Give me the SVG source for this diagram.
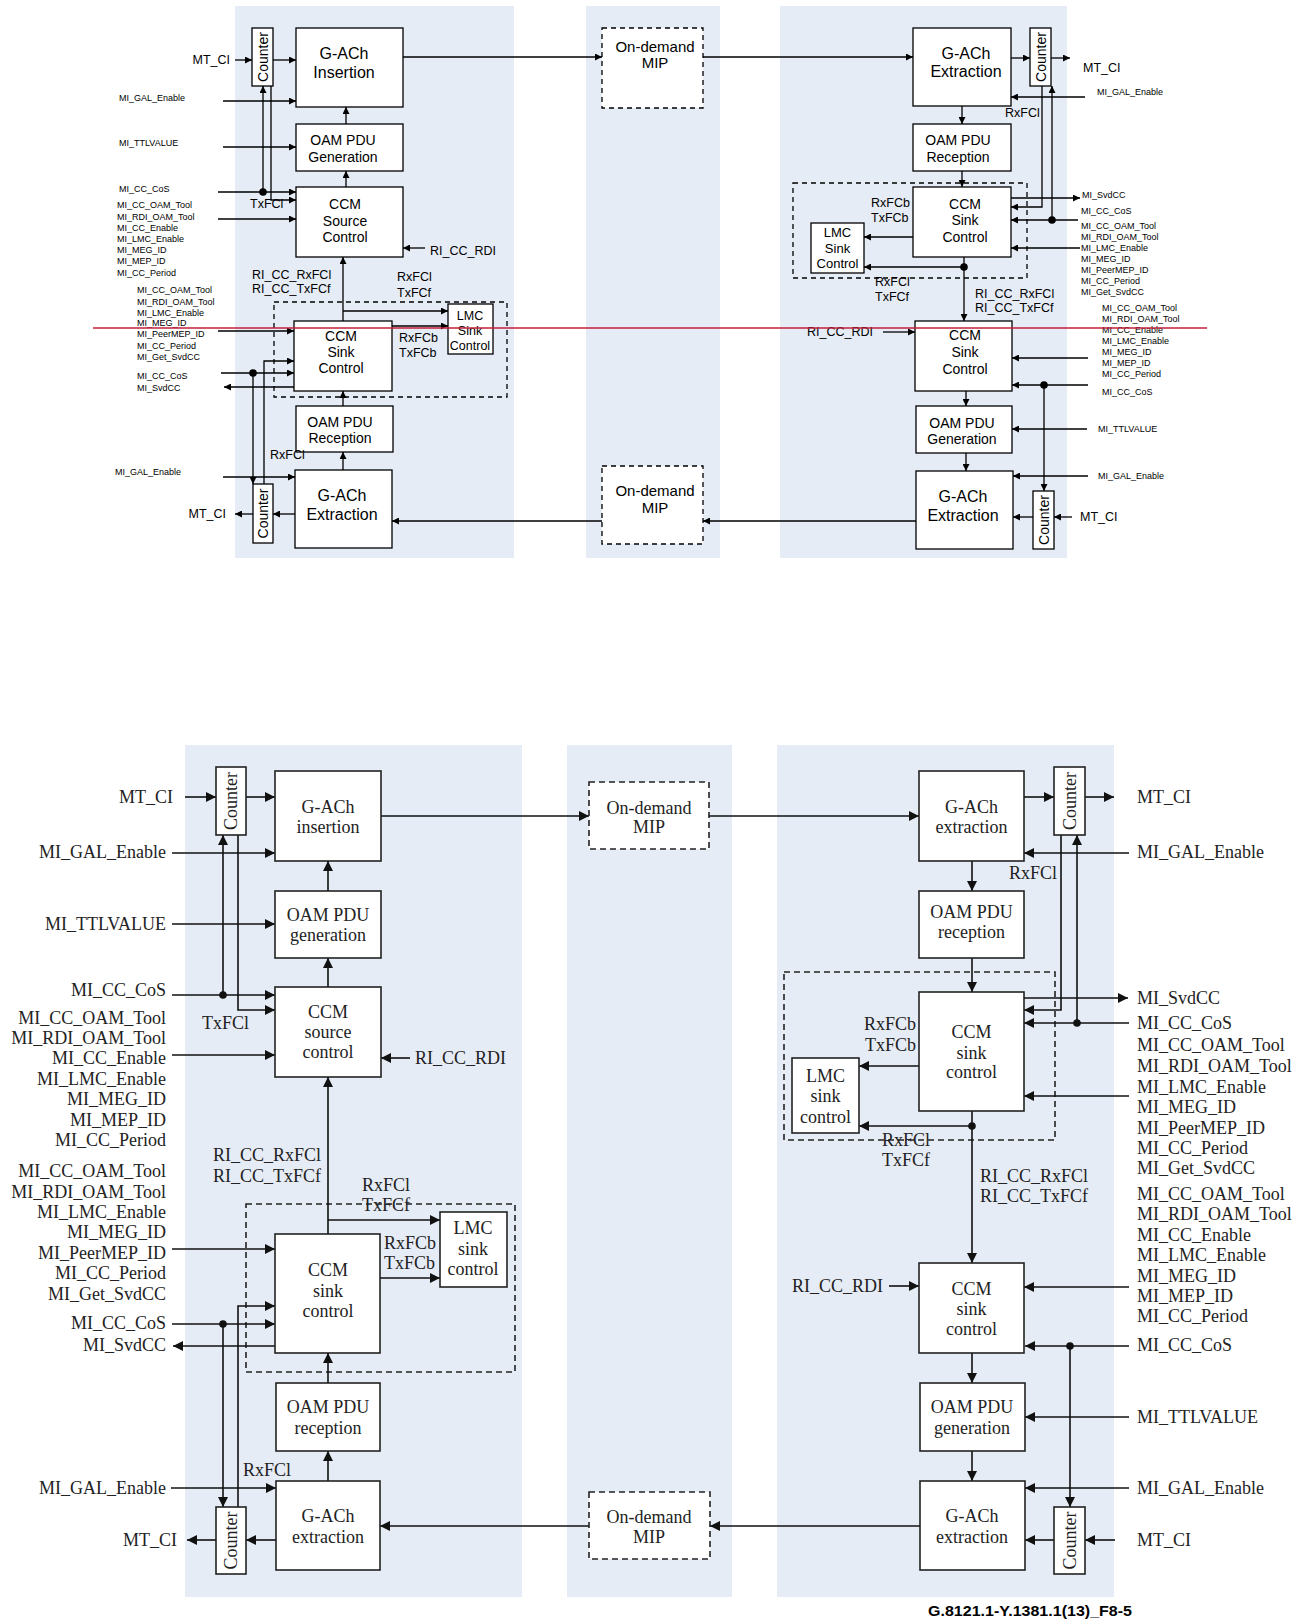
<svg xmlns="http://www.w3.org/2000/svg" width="1306" height="1621" viewBox="0 0 1306 1621">
<style>
.bg{fill:#e6ecf6}
.b1{fill:#fff;stroke:#000;stroke-width:1.3}
.b2{fill:#fff;stroke:#222;stroke-width:1.6}
.d1{fill:#fff;stroke:#000;stroke-width:1.3;stroke-dasharray:5,4}
.d1n{fill:none;stroke:#000;stroke-width:1.3;stroke-dasharray:5,4}
.d2{fill:#fff;stroke:#222;stroke-width:1.6;stroke-dasharray:6,4}
.d2n{fill:none;stroke:#222;stroke-width:1.6;stroke-dasharray:6,4}
.l1{fill:none;stroke:#000;stroke-width:1.3}
.l2{fill:none;stroke:#111;stroke-width:1.6}
.a1{marker-end:url(#m1)}
.a2{marker-end:url(#m2)}
.t1{font-family:"Liberation Sans",Arial,sans-serif;fill:#000}
.t2{font-family:"Liberation Serif","Times New Roman",serif;fill:#222;font-size:18px}
.s9{font-size:9px}
.s12{font-size:12.5px}
.s13{font-size:13px}
.s14{font-size:14px}
.s15{font-size:15px}
.s16{font-size:16px}
.c{text-anchor:middle}
.e{text-anchor:end}
</style>
<defs>
<marker id="m1" viewBox="0 0 10 10" refX="10" refY="5" markerWidth="8" markerHeight="7" markerUnits="userSpaceOnUse" orient="auto"><path d="M0,0L10,5L0,10z" fill="#000"/></marker>
<marker id="m2" viewBox="0 0 10 10" refX="10" refY="5" markerWidth="11" markerHeight="10" markerUnits="userSpaceOnUse" orient="auto"><path d="M0,0L10,5L0,10z" fill="#111"/></marker>
</defs>

<g id="panels">
<rect class="bg" x="235" y="6" width="279" height="552"/>
<rect class="bg" x="586" y="6" width="134" height="552"/>
<rect class="bg" x="780" y="6" width="287" height="552"/>
<rect class="bg" x="185" y="745" width="337" height="852"/>
<rect class="bg" x="567" y="745" width="165" height="852"/>
<rect class="bg" x="777" y="745" width="337" height="852"/>
</g>

<!-- ===== TOP HALF ===== -->
<g id="top-dashed">
<rect class="d1n" x="274" y="302" width="233" height="95"/>
<rect class="d1n" x="793" y="183" width="234" height="95"/>
</g>

<g id="connectors-top">
<path class="l1 a1" d="M235,60H252"/>
<path class="l1 a1" d="M273,60H296"/>
<path class="l1 a1" d="M223,101H296"/>
<path class="l1 a1" d="M223,147H296"/>
<path class="l1 a1" d="M218,192H296"/>
<path class="l1 a1" d="M263,192V86"/>
<path class="l1 a1" d="M271,86V200H296"/>
<path class="l1 a1" d="M218,219H296"/>
<path class="l1 a1" d="M346,124V107"/>
<path class="l1 a1" d="M346,187V171"/>
<path class="l1 a1" d="M425,248H403"/>
<path class="l1 a1" d="M343,321V257"/>
<path class="l1 a1" d="M343,311H448"/>
<path class="l1 a1" d="M392,326H448"/>
<path class="l1 a1" d="M218,331H294"/>
<path class="l1 a1" d="M221,373H294"/>
<path class="l1 a1" d="M253,373V484"/>
<path class="l1 a1" d="M264,484V361H294"/>
<path class="l1 a1" d="M294,387H224"/>
<path class="l1 a1" d="M343,406V391"/>
<path class="l1 a1" d="M343,470V452"/>
<path class="l1 a1" d="M223,477H295"/>
<path class="l1 a1" d="M295,514H273"/>
<path class="l1 a1" d="M253,514H235"/>
<path class="l1 a1" d="M403,57H602"/>
<path class="l1 a1" d="M703,57H913"/>
<path class="l1 a1" d="M916,521H703"/>
<path class="l1 a1" d="M602,521H392"/>
<path class="l1 a1" d="M1011,58H1030"/>
<path class="l1 a1" d="M1051,58H1070"/>
<path class="l1 a1" d="M1085,97H1011"/>
<path class="l1 a1" d="M962,106V124"/>
<path class="l1 a1" d="M962,171V187"/>
<path class="l1 a1" d="M1042,86V207H1011"/>
<path class="l1 a1" d="M1052,220V86"/>
<path class="l1 a1" d="M1078,220H1011"/>
<path class="l1 a1" d="M1011,198H1080"/>
<path class="l1 a1" d="M1080,248H1011"/>
<path class="l1 a1" d="M913,237H864"/>
<path class="l1 a1" d="M964,257V321"/>
<path class="l1 a1" d="M964,267H864"/>
<path class="l1 a1" d="M883,332H915"/>
<path class="l1 a1" d="M1088,358H1012"/>
<path class="l1 a1" d="M1088,385H1012"/>
<path class="l1 a1" d="M1044,385V491"/>
<path class="l1 a1" d="M966,391V406"/>
<path class="l1 a1" d="M966,453V471"/>
<path class="l1 a1" d="M1087,429H1012"/>
<path class="l1 a1" d="M1088,476H1013"/>
<path class="l1 a1" d="M1072,517H1054"/>
<path class="l1 a1" d="M1033,517H1013"/>
<circle cx="263" cy="192" r="3.8"/>
<circle cx="253" cy="373" r="3.8"/>
<circle cx="1052" cy="220" r="3.8"/>
<circle cx="964" cy="267" r="3.8"/>
<circle cx="1044" cy="385" r="3.8"/>
</g>

<g id="t-counter-1"><rect class="b1" x="252" y="28" width="21" height="58"/><text class="t1 s14 c" transform="translate(267.5,57) rotate(-90)">Counter</text></g>
<g id="t-gach-ins"><rect class="b1" x="296" y="28" width="107" height="79"/><text class="t1 s16 c" x="344"><tspan x="344" y="59">G-ACh</tspan><tspan x="344" y="78">Insertion</tspan></text></g>
<g id="t-oam-gen-l"><rect class="b1" x="296" y="124" width="107" height="47"/><text class="t1 s14 c"><tspan x="343" y="145">OAM PDU</tspan><tspan x="343" y="162">Generation</tspan></text></g>
<g id="t-ccm-src"><rect class="b1" x="296" y="187" width="107" height="70"/><text class="t1 s14 c"><tspan x="345" y="209">CCM</tspan><tspan x="345" y="226">Source</tspan><tspan x="345" y="242">Control</tspan></text></g>
<g id="t-ccm-sink-l"><rect class="b1" x="294" y="321" width="98" height="70"/><text class="t1 s14 c"><tspan x="341" y="341">CCM</tspan><tspan x="341" y="357">Sink</tspan><tspan x="341" y="373">Control</tspan></text></g>
<g id="t-lmc-l"><rect class="b1" x="448" y="304" width="45" height="50"/><text class="t1 s12 c"><tspan x="470" y="320">LMC</tspan><tspan x="470" y="335">Sink</tspan><tspan x="470" y="350">Control</tspan></text></g>
<g id="t-oam-rx-l"><rect class="b1" x="296" y="406" width="97" height="46"/><text class="t1 s14 c"><tspan x="340" y="427">OAM PDU</tspan><tspan x="340" y="443">Reception</tspan></text></g>
<g id="t-gach-ext-l"><rect class="b1" x="295" y="470" width="97" height="78"/><text class="t1 s16 c"><tspan x="342" y="501">G-ACh</tspan><tspan x="342" y="520">Extraction</tspan></text></g>
<g id="t-counter-2"><rect class="b1" x="253" y="484" width="20" height="59"/><text class="t1 s14 c" transform="translate(268,513.5) rotate(-90)">Counter</text></g>

<g id="t-mip-1"><rect class="d1" x="602" y="28" width="101" height="80"/><text class="t1 s15 c"><tspan x="655" y="52">On-demand</tspan><tspan x="655" y="68">MIP</tspan></text></g>
<g id="t-mip-2"><rect class="d1" x="602" y="466" width="101" height="78"/><text class="t1 s15 c"><tspan x="655" y="496">On-demand</tspan><tspan x="655" y="513">MIP</tspan></text></g>

<g id="t-gach-ext-r"><rect class="b1" x="913" y="28" width="98" height="78"/><text class="t1 s16 c"><tspan x="966" y="59">G-ACh</tspan><tspan x="966" y="77">Extraction</tspan></text></g>
<g id="t-counter-3"><rect class="b1" x="1030" y="28" width="21" height="58"/><text class="t1 s14 c" transform="translate(1045.5,57) rotate(-90)">Counter</text></g>
<g id="t-oam-rx-r"><rect class="b1" x="913" y="124" width="98" height="47"/><text class="t1 s14 c"><tspan x="958" y="145">OAM PDU</tspan><tspan x="958" y="162">Reception</tspan></text></g>
<g id="t-ccm-sink-r1"><rect class="b1" x="913" y="187" width="98" height="70"/><text class="t1 s14 c"><tspan x="965" y="209">CCM</tspan><tspan x="965" y="225">Sink</tspan><tspan x="965" y="242">Control</tspan></text></g>
<g id="t-lmc-r"><rect class="b1" x="811" y="223" width="53" height="50"/><text class="t1 s13 c"><tspan x="837.5" y="237">LMC</tspan><tspan x="837.5" y="253">Sink</tspan><tspan x="837.5" y="268">Control</tspan></text></g>
<g id="t-ccm-sink-r2"><rect class="b1" x="915" y="321" width="97" height="70"/><text class="t1 s14 c"><tspan x="965" y="340">CCM</tspan><tspan x="965" y="357">Sink</tspan><tspan x="965" y="374">Control</tspan></text></g>
<g id="t-oam-gen-r"><rect class="b1" x="916" y="406" width="96" height="47"/><text class="t1 s14 c"><tspan x="962" y="428">OAM PDU</tspan><tspan x="962" y="444">Generation</tspan></text></g>
<g id="t-gach-ins-r"><rect class="b1" x="916" y="471" width="97" height="78"/><text class="t1 s16 c"><tspan x="963" y="502">G-ACh</tspan><tspan x="963" y="521">Extraction</tspan></text></g>
<g id="t-counter-4"><rect class="b1" x="1033" y="491" width="21" height="58"/><text class="t1 s14 c" transform="translate(1048.5,520) rotate(-90)">Counter</text></g>

<g id="t-labels" class="t1">
<text class="s12 e" x="230" y="64">MT_CI</text>
<text class="s9" x="119" y="101">MI_GAL_Enable</text>
<text class="s9" x="119" y="146">MI_TTLVALUE</text>
<text class="s9" x="119" y="192">MI_CC_CoS</text>
<text class="s9"><tspan x="117" y="208">MI_CC_OAM_Tool</tspan><tspan x="117" y="220">MI_RDI_OAM_Tool</tspan><tspan x="117" y="231">MI_CC_Enable</tspan><tspan x="117" y="242">MI_LMC_Enable</tspan><tspan x="117" y="253">MI_MEG_ID</tspan><tspan x="117" y="264">MI_MEP_ID</tspan><tspan x="117" y="276">MI_CC_Period</tspan></text>
<text class="s12" x="250" y="208">TxFCl</text>
<text class="s12" x="430" y="255">RI_CC_RDI</text>
<text class="s12"><tspan x="252" y="279">RI_CC_RxFCl</tspan><tspan x="252" y="293">RI_CC_TxFCf</tspan></text>
<text class="s12"><tspan x="397" y="281">RxFCl</tspan><tspan x="397" y="297">TxFCf</tspan></text>
<text class="s9"><tspan x="137" y="293">MI_CC_OAM_Tool</tspan><tspan x="137" y="305">MI_RDI_OAM_Tool</tspan><tspan x="137" y="316">MI_LMC_Enable</tspan><tspan x="137" y="326">MI_MEG_ID</tspan><tspan x="137" y="337">MI_PeerMEP_ID</tspan><tspan x="137" y="349">MI_CC_Period</tspan><tspan x="137" y="360">MI_Get_SvdCC</tspan></text>
<text class="s9" x="137" y="379">MI_CC_CoS</text>
<text class="s9" x="137" y="391">MI_SvdCC</text>
<text class="s12"><tspan x="399" y="342">RxFCb</tspan><tspan x="399" y="357">TxFCb</tspan></text>
<text class="s12" x="270" y="459">RxFCl</text>
<text class="s9" x="115" y="475">MI_GAL_Enable</text>
<text class="s12 e" x="226" y="518">MT_CI</text>
<text class="s12" x="1083" y="72">MT_CI</text>
<text class="s9" x="1097" y="95">MI_GAL_Enable</text>
<text class="s12" x="1005" y="117">RxFCl</text>
<text class="s12"><tspan x="871" y="207">RxFCb</tspan><tspan x="871" y="222">TxFCb</tspan></text>
<text class="s9" x="1082" y="198">MI_SvdCC</text>
<text class="s9" x="1081" y="214">MI_CC_CoS</text>
<text class="s9"><tspan x="1081" y="229">MI_CC_OAM_Tool</tspan><tspan x="1081" y="240">MI_RDI_OAM_Tool</tspan><tspan x="1081" y="251">MI_LMC_Enable</tspan><tspan x="1081" y="262">MI_MEG_ID</tspan><tspan x="1081" y="273">MI_PeerMEP_ID</tspan><tspan x="1081" y="284">MI_CC_Period</tspan><tspan x="1081" y="295">MI_Get_SvdCC</tspan></text>
<text class="s12"><tspan x="875" y="286">RxFCl</tspan><tspan x="875" y="301">TxFCf</tspan></text>
<text class="s12"><tspan x="975" y="298">RI_CC_RxFCl</tspan><tspan x="975" y="312">RI_CC_TxFCf</tspan></text>
<text class="s12" x="807" y="336">RI_CC_RDI</text>
<text class="s9"><tspan x="1102" y="311">MI_CC_OAM_Tool</tspan><tspan x="1102" y="322">MI_RDI_OAM_Tool</tspan><tspan x="1102" y="333">MI_CC_Enable</tspan><tspan x="1102" y="344">MI_LMC_Enable</tspan><tspan x="1102" y="355">MI_MEG_ID</tspan><tspan x="1102" y="366">MI_MEP_ID</tspan><tspan x="1102" y="377">MI_CC_Period</tspan></text>
<text class="s9" x="1102" y="395">MI_CC_CoS</text>
<text class="s9" x="1098" y="432">MI_TTLVALUE</text>
<text class="s9" x="1098" y="479">MI_GAL_Enable</text>
<text class="s12" x="1080" y="521">MT_CI</text>
</g>

<line x1="93" y1="328" x2="1207" y2="328" stroke="#c41e3a" stroke-width="1.5"/>

<!-- ===== BOTTOM HALF ===== -->
<g id="bottom-dashed">
<rect class="d2n" x="246" y="1204" width="269" height="168"/>
<rect class="d2n" x="784" y="972" width="271" height="168"/>
</g>

<g id="connectors-bottom">
<path class="l2 a2" d="M185,797H216"/>
<path class="l2 a2" d="M246,797H275"/>
<path class="l2 a2" d="M381,816H589"/>
<path class="l2 a2" d="M172,853H275"/>
<path class="l2 a2" d="M328,891V861"/>
<path class="l2 a2" d="M328,987V958"/>
<path class="l2 a2" d="M172,924H275"/>
<path class="l2 a2" d="M172,995H275"/>
<path class="l2 a2" d="M223,995V835"/>
<path class="l2 a2" d="M238,835V1010H275"/>
<path class="l2 a2" d="M172,1055H275"/>
<path class="l2 a2" d="M410,1058H381"/>
<path class="l2 a2" d="M328,1234V1077"/>
<path class="l2 a2" d="M328,1220H440"/>
<path class="l2 a2" d="M380,1278H440"/>
<path class="l2 a2" d="M172,1249H275"/>
<path class="l2 a2" d="M172,1324H275"/>
<path class="l2 a2" d="M223,1324V1507"/>
<path class="l2 a2" d="M238,1507V1306H275"/>
<path class="l2 a2" d="M275,1346H173"/>
<path class="l2 a2" d="M328,1383V1353"/>
<path class="l2 a2" d="M328,1481V1451"/>
<path class="l2 a2" d="M171,1488H276"/>
<path class="l2 a2" d="M276,1540H246"/>
<path class="l2 a2" d="M216,1540H187"/>
<path class="l2 a2" d="M589,1526H380"/>
<path class="l2 a2" d="M709,816H919"/>
<path class="l2 a2" d="M920,1526H710"/>
<path class="l2 a2" d="M1024,797H1054"/>
<path class="l2 a2" d="M1085,797H1114"/>
<path class="l2 a2" d="M1129,853H1024"/>
<path class="l2 a2" d="M972,861V891"/>
<path class="l2 a2" d="M972,958V992"/>
<path class="l2 a2" d="M1061,835V1010H1024"/>
<path class="l2 a2" d="M1077,1023V835"/>
<path class="l2 a2" d="M1129,1023H1024"/>
<path class="l2 a2" d="M1024,998H1128"/>
<path class="l2 a2" d="M1129,1096H1024"/>
<path class="l2 a2" d="M919,1066H859"/>
<path class="l2 a2" d="M972,1111V1263"/>
<path class="l2 a2" d="M972,1126H859"/>
<path class="l2 a2" d="M889,1286H919"/>
<path class="l2 a2" d="M1129,1287H1024"/>
<path class="l2 a2" d="M1129,1346H1025"/>
<path class="l2 a2" d="M1070,1346V1507"/>
<path class="l2 a2" d="M972,1353V1383"/>
<path class="l2 a2" d="M972,1451V1481"/>
<path class="l2 a2" d="M1129,1417H1025"/>
<path class="l2 a2" d="M1129,1488H1025"/>
<path class="l2 a2" d="M1115,1540H1085"/>
<path class="l2 a2" d="M1054,1540H1025"/>
<circle cx="223" cy="995" r="3.8" fill="#111"/>
<circle cx="223" cy="1324" r="3.8" fill="#111"/>
<circle cx="1077" cy="1023" r="3.8" fill="#111"/>
<circle cx="972" cy="1126" r="3.8" fill="#111"/>
<circle cx="1070" cy="1346" r="3.8" fill="#111"/>
</g>

<g id="b-counter-1"><rect class="b2" x="216" y="767" width="30" height="68"/><text class="t2 c" transform="translate(237,801) rotate(-90)">Counter</text></g>
<g id="b-gach-ins"><rect class="b2" x="275" y="771" width="106" height="90"/><text class="t2 c"><tspan x="328" y="813">G-ACh</tspan><tspan x="328" y="833">insertion</tspan></text></g>
<g id="b-oam-gen-l"><rect class="b2" x="275" y="891" width="106" height="67"/><text class="t2 c"><tspan x="328" y="921">OAM PDU</tspan><tspan x="328" y="941">generation</tspan></text></g>
<g id="b-ccm-src"><rect class="b2" x="275" y="987" width="106" height="90"/><text class="t2 c"><tspan x="328" y="1018">CCM</tspan><tspan x="328" y="1038">source</tspan><tspan x="328" y="1058">control</tspan></text></g>
<g id="b-ccm-sink-l"><rect class="b2" x="275" y="1234" width="105" height="119"/><text class="t2 c"><tspan x="328" y="1276">CCM</tspan><tspan x="328" y="1297">sink</tspan><tspan x="328" y="1317">control</tspan></text></g>
<g id="b-lmc-l"><rect class="b2" x="440" y="1212" width="67" height="75"/><text class="t2 c"><tspan x="473" y="1234">LMC</tspan><tspan x="473" y="1255">sink</tspan><tspan x="473" y="1275">control</tspan></text></g>
<g id="b-oam-rx-l"><rect class="b2" x="276" y="1383" width="104" height="68"/><text class="t2 c"><tspan x="328" y="1413">OAM PDU</tspan><tspan x="328" y="1434">reception</tspan></text></g>
<g id="b-gach-ext-l"><rect class="b2" x="276" y="1481" width="104" height="89"/><text class="t2 c"><tspan x="328" y="1522">G-ACh</tspan><tspan x="328" y="1543">extraction</tspan></text></g>
<g id="b-counter-2"><rect class="b2" x="216" y="1507" width="30" height="67"/><text class="t2 c" transform="translate(237,1540.5) rotate(-90)">Counter</text></g>

<g id="b-mip-1"><rect class="d2" x="589" y="782" width="120" height="67"/><text class="t2 c"><tspan x="649" y="814">On-demand</tspan><tspan x="649" y="833">MIP</tspan></text></g>
<g id="b-mip-2"><rect class="d2" x="589" y="1492" width="121" height="67"/><text class="t2 c"><tspan x="649" y="1523">On-demand</tspan><tspan x="649" y="1543">MIP</tspan></text></g>

<g id="b-gach-ext-r"><rect class="b2" x="919" y="771" width="105" height="90"/><text class="t2 c"><tspan x="971.5" y="813">G-ACh</tspan><tspan x="971.5" y="833">extraction</tspan></text></g>
<g id="b-counter-3"><rect class="b2" x="1054" y="767" width="31" height="68"/><text class="t2 c" transform="translate(1075.5,801) rotate(-90)">Counter</text></g>
<g id="b-oam-rx-r"><rect class="b2" x="919" y="891" width="105" height="67"/><text class="t2 c"><tspan x="971.5" y="918">OAM PDU</tspan><tspan x="971.5" y="938">reception</tspan></text></g>
<g id="b-ccm-sink-r1"><rect class="b2" x="919" y="992" width="105" height="119"/><text class="t2 c"><tspan x="971.5" y="1038">CCM</tspan><tspan x="971.5" y="1059">sink</tspan><tspan x="971.5" y="1078">control</tspan></text></g>
<g id="b-lmc-r"><rect class="b2" x="792" y="1058" width="67" height="75"/><text class="t2 c"><tspan x="825.5" y="1082">LMC</tspan><tspan x="825.5" y="1102">sink</tspan><tspan x="825.5" y="1123">control</tspan></text></g>
<g id="b-ccm-sink-r2"><rect class="b2" x="919" y="1263" width="105" height="90"/><text class="t2 c"><tspan x="971.5" y="1295">CCM</tspan><tspan x="971.5" y="1315">sink</tspan><tspan x="971.5" y="1335">control</tspan></text></g>
<g id="b-oam-gen-r"><rect class="b2" x="920" y="1383" width="105" height="68"/><text class="t2 c"><tspan x="972" y="1413">OAM PDU</tspan><tspan x="972" y="1434">generation</tspan></text></g>
<g id="b-gach-ins-r"><rect class="b2" x="920" y="1481" width="105" height="89"/><text class="t2 c"><tspan x="972" y="1522">G-ACh</tspan><tspan x="972" y="1543">extraction</tspan></text></g>
<g id="b-counter-4"><rect class="b2" x="1054" y="1507" width="31" height="67"/><text class="t2 c" transform="translate(1075.5,1540.5) rotate(-90)">Counter</text></g>

<g id="b-labels" class="t2">
<text class="e" x="173" y="803">MT_CI</text>
<text class="e" x="166" y="858">MI_GAL_Enable</text>
<text class="e" x="166" y="930">MI_TTLVALUE</text>
<text class="e" x="166" y="996">MI_CC_CoS</text>
<text class="e"><tspan x="166" y="1024">MI_CC_OAM_Tool</tspan><tspan x="166" y="1044">MI_RDI_OAM_Tool</tspan><tspan x="166" y="1064">MI_CC_Enable</tspan><tspan x="166" y="1085">MI_LMC_Enable</tspan><tspan x="166" y="1105">MI_MEG_ID</tspan><tspan x="166" y="1126">MI_MEP_ID</tspan><tspan x="166" y="1146">MI_CC_Period</tspan></text>
<text class="e"><tspan x="166" y="1177">MI_CC_OAM_Tool</tspan><tspan x="166" y="1198">MI_RDI_OAM_Tool</tspan><tspan x="166" y="1218">MI_LMC_Enable</tspan><tspan x="166" y="1238">MI_MEG_ID</tspan><tspan x="166" y="1259">MI_PeerMEP_ID</tspan><tspan x="166" y="1279">MI_CC_Period</tspan><tspan x="166" y="1300">MI_Get_SvdCC</tspan></text>
<text class="e" x="166" y="1329">MI_CC_CoS</text>
<text class="e" x="166" y="1351">MI_SvdCC</text>
<text class="e" x="166" y="1494">MI_GAL_Enable</text>
<text class="e" x="177" y="1546">MT_CI</text>
<text x="202" y="1029">TxFCl</text>
<text x="415" y="1064">RI_CC_RDI</text>
<text><tspan x="213" y="1161">RI_CC_RxFCl</tspan><tspan x="213" y="1182">RI_CC_TxFCf</tspan></text>
<text><tspan x="362" y="1191">RxFCl</tspan><tspan x="362" y="1211">TxFCf</tspan></text>
<text><tspan x="384" y="1249">RxFCb</tspan><tspan x="384" y="1269">TxFCb</tspan></text>
<text x="243" y="1476">RxFCl</text>
<text x="1137" y="803">MT_CI</text>
<text x="1137" y="858">MI_GAL_Enable</text>
<text x="1009" y="879">RxFCl</text>
<text x="1137" y="1004">MI_SvdCC</text>
<text x="1137" y="1029">MI_CC_CoS</text>
<text><tspan x="1137" y="1051">MI_CC_OAM_Tool</tspan><tspan x="1137" y="1072">MI_RDI_OAM_Tool</tspan><tspan x="1137" y="1093">MI_LMC_Enable</tspan><tspan x="1137" y="1113">MI_MEG_ID</tspan><tspan x="1137" y="1134">MI_PeerMEP_ID</tspan><tspan x="1137" y="1154">MI_CC_Period</tspan><tspan x="1137" y="1174">MI_Get_SvdCC</tspan></text>
<text><tspan x="1137" y="1200">MI_CC_OAM_Tool</tspan><tspan x="1137" y="1220">MI_RDI_OAM_Tool</tspan><tspan x="1137" y="1241">MI_CC_Enable</tspan><tspan x="1137" y="1261">MI_LMC_Enable</tspan><tspan x="1137" y="1282">MI_MEG_ID</tspan><tspan x="1137" y="1302">MI_MEP_ID</tspan><tspan x="1137" y="1322">MI_CC_Period</tspan></text>
<text x="1137" y="1351">MI_CC_CoS</text>
<text x="1137" y="1423">MI_TTLVALUE</text>
<text x="1137" y="1494">MI_GAL_Enable</text>
<text x="1137" y="1546">MT_CI</text>
<text class="e"><tspan x="916" y="1030">RxFCb</tspan><tspan x="916" y="1051">TxFCb</tspan></text>
<text><tspan x="882" y="1146">RxFCl</tspan><tspan x="882" y="1166">TxFCf</tspan></text>
<text><tspan x="980" y="1182">RI_CC_RxFCl</tspan><tspan x="980" y="1202">RI_CC_TxFCf</tspan></text>
<text x="792" y="1292">RI_CC_RDI</text>
</g>

<text class="t1" x="928" y="1616" font-size="14" font-weight="bold" textLength="204" lengthAdjust="spacingAndGlyphs">G.8121.1-Y.1381.1(13)_F8-5</text>
</svg>
